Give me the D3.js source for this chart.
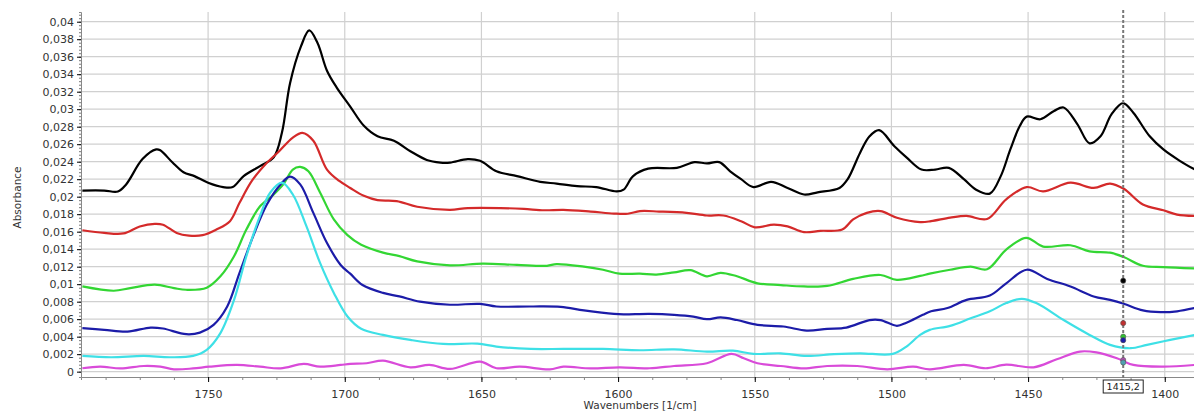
<!DOCTYPE html>
<html>
<head>
<meta charset="UTF-8">
<title>Absorbance spectra</title>
<style>
  body { margin: 0; background: #fff; }
  .tick-label { font: 11px "DejaVu Sans", sans-serif; fill: #333; }
  .axis-title { font: 10.5px "DejaVu Sans", sans-serif; fill: #333; }
  .grid line { stroke: #d0d0d0; stroke-width: 1.2; }
  .spectrum { fill: none; stroke-width: 2.2; stroke-linejoin: round; }
</style>
<script src="https://cdn.jsdelivr.net/npm/d3@7/dist/d3.min.js"></script>
</head>
<body>
<div id="chart"></div>
<script>
// wavenumber [1/cm], absorbance x1000
const black = [[1796,20.7],[1788,20.7],[1783,20.6],[1780,21.4],[1774,24.3],[1769,25.4],[1767.5,25.3],[1763,23.9],[1759,22.8],[1755,22.35],[1750,21.6],[1744.5,21.1],[1741,21.1],[1737,22.35],[1731,23.5],[1726,24.5],[1723,27.3],[1720,33.0],[1716,37.2],[1713,39.0],[1710,37.6],[1706.5,34.4],[1703,32.5],[1698,30.3],[1693,28.1],[1688,26.9],[1682,26.4],[1676,25.2],[1670,24.2],[1665,23.9],[1661.5,23.9],[1655,24.3],[1650.5,24.1],[1644.5,22.9],[1637,22.35],[1628.5,21.7],[1622.5,21.5],[1615,21.2],[1608,21.1],[1600.5,20.6],[1598,20.8],[1594.5,22.35],[1589,23.2],[1578.5,23.3],[1572,23.95],[1567.5,23.8],[1563,23.95],[1559,22.9],[1555,22.0],[1550.5,21.1],[1544,21.7],[1538,21.0],[1532,20.25],[1527,20.5],[1519,21.0],[1516,22.0],[1511.5,25.0],[1508,26.9],[1504.5,27.6],[1499,25.8],[1494.5,24.5],[1489,23.1],[1484,23.1],[1479,23.3],[1473.5,22.0],[1469,20.8],[1464,20.35],[1460,22.35],[1456.5,25.4],[1453,28.1],[1450.5,29.15],[1445.5,28.85],[1440.5,29.8],[1437,30.2],[1432,28.3],[1427.5,26.1],[1423.5,26.9],[1419.5,29.4],[1415.3,30.7],[1411.5,29.6],[1405.5,26.9],[1400.5,25.4],[1394.5,24.1],[1389,23.1]];
const red = [[1796,16.16],[1788,15.86],[1781,15.8],[1775,16.6],[1769.5,16.9],[1766.5,16.8],[1761.5,15.86],[1757,15.55],[1752,15.6],[1747,16.24],[1742,17.2],[1738.5,19.3],[1734,21.8],[1729,23.7],[1724,25.2],[1719,26.75],[1715.5,27.3],[1711.5,26.4],[1706.5,23.1],[1702,21.8],[1698,21.0],[1693,20.1],[1688,19.6],[1681,19.5],[1673.5,18.85],[1661.5,18.5],[1655,18.7],[1643,18.7],[1634.5,18.6],[1627,18.45],[1620,18.5],[1610,18.3],[1601.5,18.07],[1596.5,18.05],[1592,18.35],[1585,18.3],[1575,18.15],[1567.5,17.85],[1561.5,17.85],[1555,17.2],[1550,16.5],[1543,16.8],[1538,16.6],[1532,15.95],[1526,16.1],[1518,16.25],[1514,17.4],[1509,18.15],[1504,18.35],[1498,17.6],[1489.5,17.1],[1485.5,17.2],[1478.5,17.6],[1472.5,17.8],[1465,17.45],[1458,19.7],[1450.5,21.1],[1444.5,20.6],[1434.5,21.6],[1426,21.0],[1420,21.5],[1415,20.9],[1408,19.1],[1400.5,18.45],[1395.5,17.95],[1389,17.8]];
const green = [[1796,9.74],[1784.5,9.25],[1778.5,9.55],[1769.5,9.94],[1762.5,9.55],[1758,9.36],[1750.5,9.6],[1745.5,10.9],[1740.5,13.2],[1736,16.24],[1731,18.9],[1726,20.25],[1722.5,21.4],[1719,23.1],[1716.3,23.4],[1713.3,22.9],[1709,20.45],[1704,17.4],[1699,15.6],[1694,14.5],[1686,13.6],[1680,13.2],[1673.5,12.6],[1661.5,12.15],[1649.5,12.35],[1637,12.2],[1626,12.1],[1622.5,12.3],[1612.5,12.0],[1605.5,11.65],[1599.5,11.2],[1592,11.2],[1586,11.1],[1579.5,11.35],[1573.5,11.6],[1567.5,10.9],[1562.5,11.3],[1556.5,10.9],[1549,10.1],[1540.5,9.9],[1532,9.74],[1523.5,9.8],[1514,10.6],[1504,11.05],[1498,10.5],[1489.5,10.95],[1486,11.2],[1478.5,11.65],[1471,12.0],[1465,11.7],[1458,13.95],[1450.7,15.3],[1444.5,14.3],[1434.5,14.45],[1427.5,13.75],[1420,13.6],[1415,13.1],[1408,12.1],[1400.5,11.95],[1389,11.8]];
const blue = [[1796,4.97],[1788,4.78],[1779.5,4.58],[1771,5.04],[1766.5,4.93],[1758,4.28],[1753,4.46],[1748,5.35],[1743,7.45],[1738.5,11.3],[1733.5,15.5],[1728.5,19.1],[1723.5,21.4],[1720,22.3],[1716.3,21.4],[1711.5,18.15],[1706.5,14.7],[1701.5,12.2],[1698,11.2],[1693.5,9.9],[1686,9.0],[1680,8.6],[1672.5,8.0],[1661.5,7.65],[1650.5,7.75],[1644.5,7.45],[1632,7.45],[1621,7.4],[1612.5,7.0],[1601.5,6.6],[1598,6.55],[1588.5,6.6],[1579.5,6.5],[1572.5,6.3],[1567.5,6.0],[1562.5,6.2],[1556.5,5.9],[1549,5.35],[1539.5,5.16],[1531,4.7],[1523.5,4.9],[1516.5,5.04],[1508,5.9],[1504,5.9],[1498,5.24],[1494.5,5.6],[1488.5,6.5],[1485.5,6.9],[1479.5,7.27],[1472.5,8.2],[1464,8.7],[1458,10.1],[1450.5,11.65],[1443,10.6],[1434.5,9.74],[1426,8.6],[1420,8.2],[1415,7.76],[1408,7.0],[1401.5,6.8],[1395.5,6.9],[1389,7.27]];
const cyan = [[1796,1.8],[1785.5,1.65],[1773.5,1.8],[1764,1.65],[1755.5,1.8],[1750.5,2.49],[1745.5,4.4],[1740.5,8.2],[1736,13.2],[1731,17.8],[1727.3,20.45],[1723,21.6],[1719,20.25],[1714,16.6],[1709,12.4],[1704,9.0],[1699,6.3],[1694,4.9],[1686,4.2],[1676,3.63],[1664,3.17],[1651.5,3.2],[1644.5,2.87],[1632,2.6],[1620,2.6],[1605.5,2.6],[1592,2.45],[1579.5,2.55],[1567.5,2.3],[1558,2.4],[1550.5,2.03],[1540.5,2.1],[1531,1.8],[1521,2.0],[1511.5,2.1],[1499.5,2.03],[1494.5,2.87],[1489.5,4.2],[1486,4.78],[1478.5,5.24],[1471,6.1],[1464,6.9],[1458,7.84],[1452.3,8.33],[1447,7.84],[1437,5.9],[1427.5,4.2],[1420,3.06],[1412.5,2.68],[1406.5,3.06],[1398,3.63],[1389,4.2]];
const magenta = [[1796,0.39],[1789.5,0.57],[1782,0.37],[1773.5,0.65],[1767.5,0.57],[1762.5,0.27],[1755.5,0.37],[1749.5,0.57],[1739.5,0.77],[1731,0.57],[1723.5,0.37],[1715,0.88],[1709,0.57],[1701.5,0.77],[1698,0.88],[1692,0.96],[1686,1.26],[1676,0.5],[1669,0.77],[1661.5,0.31],[1650.5,1.15],[1644.5,0.39],[1636,0.57],[1625,0.27],[1620,0.57],[1610,0.37],[1599.5,0.5],[1588.5,0.39],[1579.5,0.65],[1567.5,0.96],[1558.5,2.03],[1554,1.53],[1549,0.96],[1540.5,0.65],[1532,0.37],[1523.5,0.65],[1512.5,0.65],[1501.5,0.27],[1492,0.57],[1486,0.27],[1473.5,0.77],[1465.5,0.39],[1458,0.8],[1448,0.5],[1439.5,1.42],[1431,2.3],[1425,2.2],[1417.5,1.53],[1411.5,0.77],[1400.5,0.57],[1389,0.77]];

const seriesList = [black, red, green, blue, cyan, magenta];
const seriesColors = ["#000000", "#d42a2a", "#33d633", "#1c1ca8", "#3ee0e6", "#d94bd9"];

// cursor position and the markers shown on it (absorbance x1000)
const cursorWn = 1415.2;
const cursorMarks = [10.4, 5.55, 4.0, 3.6, 1.33, 1.05];
const cursorMarkColors = ["#000000", "#c03030", "#30c030", "#1c1ca8", "#b050b0", "#50a0b0"];

const xTicks = [1750, 1700, 1650, 1600, 1550, 1500, 1450, 1400];
const yTicks = d3.range(0, 0.0401, 0.002);

const W = 1194, H = 412;
const plotLeft = 81, plotRight = 1194, plotTop = 12, plotBottom = 377;

const svg = d3.select("#chart").append("svg")
    .attr("width", W)
    .attr("height", H);

const x = d3.scaleLinear().domain([1796.5, 1389.3]).range([plotLeft, plotRight]);
const y = d3.scaleLinear().domain([-0.00061, 0.04111]).range([plotBottom, plotTop]);

// grid
svg.append("g").attr("class", "grid")
    .selectAll("line").data(yTicks).join("line")
    .attr("x1", plotLeft).attr("x2", plotRight)
    .attr("y1", d => y(d)).attr("y2", d => y(d));
svg.append("g").attr("class", "grid")
    .selectAll("line").data(xTicks).join("line")
    .attr("x1", d => x(d)).attr("x2", d => x(d))
    .attr("y1", plotTop).attr("y2", plotBottom);

// y axis
const fmtY = d => d === 0 ? "0" : String(+d.toFixed(3)).replace(".", ",");
const yAxis = svg.append("g").attr("transform", `translate(${plotLeft},0)`);
yAxis.call(d3.axisLeft(y).tickValues(d3.range(0, 0.041, 0.0004)).tickSize(2).tickFormat(""));
yAxis.call(g => g.selectAll(".tick line").attr("stroke", "#777"));
yAxis.append("g").call(d3.axisLeft(y).tickValues(yTicks).tickSize(4).tickFormat(fmtY))
    .call(g => g.select(".domain").remove());
yAxis.selectAll(".domain").attr("stroke", "#888");
yAxis.selectAll("text").attr("class", "tick-label").attr("font-size", null).attr("font-family", null);

// x axis
const xAxis = svg.append("g").attr("transform", `translate(0,${plotBottom})`);
xAxis.call(d3.axisBottom(x).tickValues(d3.range(1400, 1800, 12.5)).tickSize(3).tickFormat(""));
xAxis.call(g => g.selectAll(".tick line").attr("stroke", "#888"));
xAxis.append("g").call(d3.axisBottom(x).tickValues(xTicks).tickSize(5).tickPadding(8).tickFormat(d3.format("d")))
    .call(g => g.select(".domain").remove());
xAxis.selectAll(".domain").attr("stroke", "#888");
xAxis.selectAll("text").attr("class", "tick-label").attr("font-size", null).attr("font-family", null);

// axis titles
svg.append("text").attr("class", "axis-title")
    .attr("text-anchor", "middle")
    .attr("transform", `translate(21,${(plotTop + plotBottom) / 2 + 3}) rotate(-90)`)
    .text("Absorbance");
svg.append("text").attr("class", "axis-title")
    .attr("text-anchor", "middle")
    .attr("x", 640).attr("y", 409)
    .text("Wavenumbers [1/cm]");

// spectra
const line = d3.line()
    .x(d => x(d[0]))
    .y(d => y(d[1] / 1000))
    .curve(d3.curveCatmullRom.alpha(0.5));

svg.append("g").selectAll("path")
    .data(seriesList).join("path")
    .attr("class", "spectrum")
    .attr("stroke", (d, i) => seriesColors[i])
    .attr("d", line);

// cursor
svg.append("line")
    .attr("x1", x(cursorWn)).attr("x2", x(cursorWn))
    .attr("y1", plotTop - 2).attr("y2", plotBottom + 3)
    .attr("stroke", "#777").attr("stroke-width", 2)
    .attr("stroke-dasharray", "3,2");

svg.append("g").selectAll("circle")
    .data(cursorMarks).join("circle")
    .attr("cx", x(cursorWn))
    .attr("cy", d => y(d / 1000))
    .attr("r", 2.6)
    .attr("fill", (d, i) => cursorMarkColors[i])
    .attr("stroke", "#555").attr("stroke-width", 0.6);

const box = svg.append("g").attr("transform", `translate(${x(cursorWn)},${plotBottom + 3})`);
box.append("rect")
    .attr("x", -20).attr("y", 0).attr("width", 40).attr("height", 13)
    .attr("fill", "#fff").attr("stroke", "#222").attr("stroke-width", 1);
box.append("text")
    .attr("text-anchor", "middle").attr("y", 10)
    .style("font", "9.5px 'DejaVu Sans', sans-serif").attr("fill", "#222")
    .text(String(cursorWn).replace(".", ","));
</script>
</body>
</html>
